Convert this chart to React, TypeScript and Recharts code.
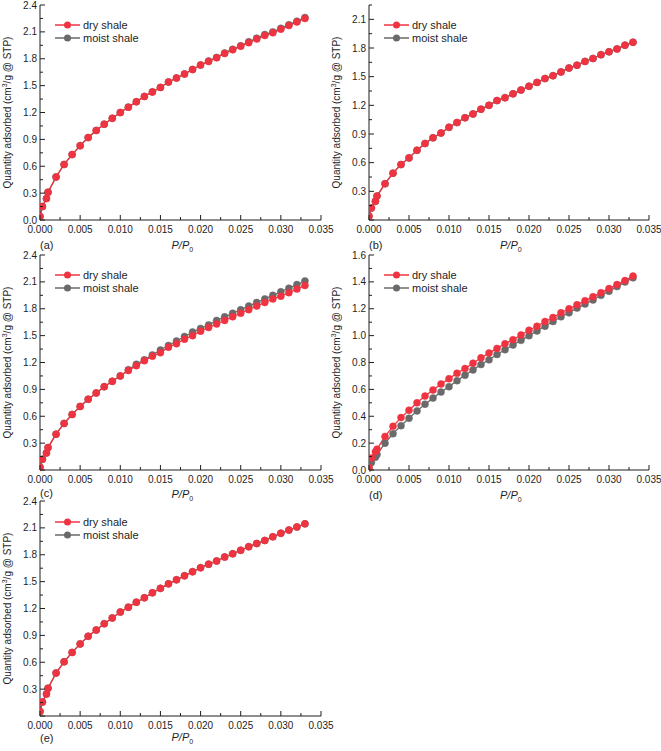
import React from 'react';
import { LineChart, Line, XAxis, YAxis } from 'recharts';

// Relative pressure P/P0 (shared by all panels)
const PRESSURE = [
  0, 0.0003, 0.0008, 0.001, 0.002, 0.003, 0.004, 0.005, 0.006, 0.007, 0.008, 0.009, 0.01,
  0.011, 0.012, 0.013, 0.014, 0.015, 0.016, 0.017, 0.018, 0.019, 0.02, 0.021, 0.022, 0.023,
  0.024, 0.025, 0.026, 0.027, 0.028, 0.029, 0.03, 0.031, 0.032, 0.033,
];

const X_TICKS = [
  0, 0.0025, 0.005, 0.0075, 0.01, 0.0125, 0.015, 0.0175, 0.02, 0.0225, 0.025, 0.0275, 0.03,
  0.0325, 0.035,
];
const X_LABELS = [0, 0.005, 0.01, 0.015, 0.02, 0.025, 0.03, 0.035];

// Panel (a)
const DRY_A = [
  0.04, 0.15, 0.24, 0.31, 0.48, 0.62, 0.73, 0.83, 0.92, 1.0, 1.07, 1.135, 1.2, 1.26, 1.32, 1.38,
  1.43, 1.48, 1.54, 1.585, 1.63, 1.68, 1.73, 1.77, 1.81, 1.86, 1.9, 1.94, 1.98, 2.02, 2.06, 2.09,
  2.13, 2.17, 2.21, 2.25,
];
const MOIST_A = [
  0.04, 0.15, 0.24, 0.31, 0.48, 0.62, 0.73, 0.83, 0.92, 1.0, 1.07, 1.135, 1.2, 1.26, 1.32, 1.38,
  1.43, 1.48, 1.54, 1.585, 1.63, 1.68, 1.73, 1.775, 1.815, 1.865, 1.905, 1.945, 1.99, 2.03, 2.07,
  2.1, 2.14, 2.18, 2.22, 2.26,
];
// Panel (b)
const DRY_B = [
  0.04, 0.125, 0.195, 0.25, 0.38, 0.49, 0.58, 0.65, 0.73, 0.8, 0.86, 0.91, 0.97, 1.02, 1.07, 1.11,
  1.16, 1.2, 1.25, 1.28, 1.32, 1.36, 1.4, 1.44, 1.48, 1.51, 1.55, 1.59, 1.62, 1.66, 1.69, 1.73,
  1.76, 1.79, 1.83, 1.86,
];
const MOIST_B = [
  0.04, 0.125, 0.195, 0.25, 0.38, 0.49, 0.58, 0.65, 0.73, 0.8, 0.86, 0.91, 0.97, 1.02, 1.07, 1.11,
  1.16, 1.2, 1.25, 1.28, 1.32, 1.36, 1.4, 1.44, 1.48, 1.51, 1.55, 1.59, 1.62, 1.66, 1.69, 1.73,
  1.76, 1.79, 1.83, 1.86,
];
// Panel (c)
const DRY_C = [
  0.03, 0.12, 0.19, 0.25, 0.4, 0.52, 0.62, 0.71, 0.79, 0.86, 0.93, 0.99, 1.05, 1.11, 1.165, 1.22,
  1.27, 1.31, 1.37, 1.41, 1.46, 1.5, 1.55, 1.59, 1.63, 1.67, 1.71, 1.75, 1.79, 1.83, 1.87, 1.91,
  1.94, 1.98, 2.02, 2.06,
];
const MOIST_C = [
  0.03, 0.12, 0.19, 0.25, 0.4, 0.52, 0.62, 0.71, 0.79, 0.86, 0.93, 0.99, 1.05, 1.12, 1.18, 1.23,
  1.285, 1.34, 1.39, 1.44, 1.49, 1.54, 1.58, 1.62, 1.67, 1.71, 1.75, 1.79, 1.83, 1.87, 1.91, 1.95,
  1.99, 2.03, 2.07, 2.11,
];
// Panel (d)
const DRY_D = [
  0.02, 0.09, 0.135, 0.155, 0.25, 0.325, 0.39, 0.445, 0.5, 0.55, 0.595, 0.64, 0.68, 0.72, 0.755,
  0.795, 0.835, 0.87, 0.905, 0.94, 0.97, 1.005, 1.04, 1.07, 1.105, 1.135, 1.17, 1.2, 1.23, 1.26,
  1.29, 1.32, 1.35, 1.38, 1.41, 1.443,
];
const MOIST_D = [
  0.015, 0.055, 0.095, 0.115, 0.2, 0.27, 0.33, 0.385, 0.44, 0.49, 0.535, 0.58, 0.62, 0.665, 0.705,
  0.745, 0.785, 0.82, 0.86, 0.895, 0.93, 0.965, 1.0, 1.035, 1.07, 1.105, 1.14, 1.17, 1.205, 1.235,
  1.265, 1.3, 1.33, 1.365, 1.4, 1.43,
];
// Panel (e)
const DRY_E = [
  0.05, 0.155, 0.245, 0.31, 0.48, 0.605, 0.71, 0.805, 0.89, 0.96, 1.03, 1.095, 1.16, 1.215, 1.27,
  1.32, 1.375, 1.425, 1.475, 1.52, 1.565, 1.61, 1.655, 1.695, 1.73, 1.775, 1.81, 1.85, 1.89, 1.925,
  1.96, 2.0, 2.04, 2.075, 2.11, 2.145,
];
const MOIST_E = [
  0.05, 0.155, 0.245, 0.31, 0.48, 0.605, 0.71, 0.805, 0.89, 0.96, 1.03, 1.095, 1.16, 1.215, 1.27,
  1.32, 1.375, 1.425, 1.475, 1.52, 1.565, 1.61, 1.655, 1.695, 1.73, 1.775, 1.81, 1.85, 1.89, 1.925,
  1.96, 2.0, 2.04, 2.075, 2.11, 2.145,
];

// Y ticks (all tick marks) and the ones that carry labels
const Y_TICKS_24 = [0, 0.15, 0.3, 0.45, 0.6, 0.75, 0.9, 1.05, 1.2, 1.35, 1.5, 1.65, 1.8, 1.95, 2.1, 2.25, 2.4];
const Y_MAJOR_24 = [0, 0.3, 0.6, 0.9, 1.2, 1.5, 1.8, 2.1, 2.4];
const Y_LABELS_24_FULL = [0, 0.3, 0.6, 0.9, 1.2, 1.5, 1.8, 2.1, 2.4];
const Y_LABELS_24 = [0.3, 0.6, 0.9, 1.2, 1.5, 1.8, 2.1, 2.4];
const Y_TICKS_225 = [0, 0.15, 0.3, 0.45, 0.6, 0.75, 0.9, 1.05, 1.2, 1.35, 1.5, 1.65, 1.8, 1.95, 2.1, 2.25];
const Y_LABELS_225 = [0.3, 0.6, 0.9, 1.2, 1.5, 1.8, 2.1];
const Y_TICKS_16 = [0, 0.1, 0.2, 0.3, 0.4, 0.5, 0.6, 0.7, 0.8, 0.9, 1.0, 1.1, 1.2, 1.3, 1.4, 1.5, 1.6];
const Y_MAJOR_16 = [0, 0.2, 0.4, 0.6, 0.8, 1.0, 1.2, 1.4, 1.6];
const Y_LABELS_16 = [0, 0.2, 0.4, 0.6, 0.8, 1.0, 1.2, 1.4, 1.6];

const SERIES_NAMES = ['dry shale', 'moist shale'];

const RED = '#EF3340';
const GRAY = '#6A6A6A';
const INK = '#1E1E1E';
const FONT = '"Liberation Sans", Arial, sans-serif';

const hasVal = (arr: number[], v: number) => arr.some((a) => Math.abs(a - v) < 1e-9);

const makeXTick = () => (props: any) => {
  const { x, y, payload } = props;
  const v = payload.value;
  const major = hasVal(X_LABELS, v);
  return (
    <g>
      <line x1={x} x2={x} y1={y} y2={y - (major ? 5 : 3)} stroke={INK} strokeWidth={1} />
      {major && (
        <text x={x} y={y + 13} textAnchor="middle" fontSize={10} fontFamily={FONT} fill={INK}>
          {v.toFixed(3)}
        </text>
      )}
    </g>
  );
};

const makeYTick = (majors: number[], labels: number[]) => (props: any) => {
  const { x, y, payload } = props;
  const v = payload.value;
  const isMajor = hasVal(majors, v);
  const isLabel = hasVal(labels, v);
  return (
    <g>
      <line x1={x} x2={x + (isMajor ? 5 : 3)} y1={y} y2={y} stroke={INK} strokeWidth={1} />
      {isLabel && (
        <text x={x - 3} y={y + 3.5} textAnchor="end" fontSize={10} fontFamily={FONT} fill={INK}>
          {v.toFixed(1)}
        </text>
      )}
    </g>
  );
};

type PanelCfg = {
  key: string;
  letter: string;
  left: number;
  top: number;
  rightMargin: number;
  dry: number[];
  moist: number[];
  yMax: number;
  yTicks: number[];
  yMajor: number[];
  yLabels: number[];
  legendTop: number;
  letterY: number;
  titleY: number;
};

const PANELS: PanelCfg[] = [
  { key: 'a', letter: '(a)', left: 0, top: 0, rightMargin: 24, dry: DRY_A, moist: MOIST_A, yMax: 2.4, yTicks: Y_TICKS_24, yMajor: Y_MAJOR_24, yLabels: Y_LABELS_24_FULL, legendTop: 20, letterY: 249, titleY: 249 },
  { key: 'b', letter: '(b)', left: 329, top: 0, rightMargin: 25, dry: DRY_B, moist: MOIST_B, yMax: 2.25, yTicks: Y_TICKS_225, yMajor: Y_MAJOR_24, yLabels: Y_LABELS_225, legendTop: 20, letterY: 249, titleY: 249 },
  { key: 'c', letter: '(c)', left: 0, top: 250, rightMargin: 24, dry: DRY_C, moist: MOIST_C, yMax: 2.4, yTicks: Y_TICKS_24, yMajor: Y_MAJOR_24, yLabels: Y_LABELS_24, legendTop: 20, letterY: 247, titleY: 248 },
  { key: 'd', letter: '(d)', left: 329, top: 250, rightMargin: 25, dry: DRY_D, moist: MOIST_D, yMax: 1.6, yTicks: Y_TICKS_16, yMajor: Y_MAJOR_16, yLabels: Y_LABELS_16, legendTop: 20, letterY: 249, titleY: 249 },
  { key: 'e', letter: '(e)', left: 0, top: 496, rightMargin: 24, dry: DRY_E, moist: MOIST_E, yMax: 2.4, yTicks: Y_TICKS_24, yMajor: Y_MAJOR_24, yLabels: Y_LABELS_24, legendTop: 21, letterY: 246, titleY: 245 },
];

const W = 345;
const H = 250;
const PLOT_LEFT = 40;
const PLOT_TOP = 5;
const X_AXIS_H = 30;

function Panel({ cfg }: { cfg: PanelCfg }) {
  const data = PRESSURE.map((p, i) => ({ p, dry: cfg.dry[i], moist: cfg.moist[i] }));
  const plotCenterY = PLOT_TOP + (H - X_AXIS_H - PLOT_TOP) / 2;
  const plotRight = W - cfg.rightMargin;
  const lx = PLOT_LEFT + 15;
  return (
    <div style={{ position: 'absolute', left: cfg.left, top: cfg.top, width: W, height: H }}>
      <LineChart width={W} height={H} data={data} margin={{ top: PLOT_TOP, right: cfg.rightMargin, left: 0, bottom: 0 }}>
        <XAxis
          xAxisId="b"
          type="number"
          dataKey="p"
          domain={[0, 0.035]}
          ticks={X_TICKS}
          interval={0}
          height={X_AXIS_H}
          tickSize={0}
          tickMargin={0}
          tickLine={false}
          axisLine={{ stroke: INK, strokeWidth: 1 }}
          tick={makeXTick()}
          allowDataOverflow
        />
        <XAxis xAxisId="t" orientation="top" type="number" dataKey="p" domain={[0, 0.035]} height={0} tick={false} tickLine={false} axisLine={{ stroke: INK, strokeWidth: 1 }} />
        <YAxis
          yAxisId="l"
          type="number"
          domain={[0, cfg.yMax]}
          ticks={cfg.yTicks}
          interval={0}
          width={PLOT_LEFT}
          tickSize={0}
          tickMargin={0}
          tickLine={false}
          axisLine={{ stroke: INK, strokeWidth: 1 }}
          tick={makeYTick(cfg.yMajor, cfg.yLabels)}
        />
        <YAxis yAxisId="r" orientation="right" type="number" domain={[0, cfg.yMax]} width={0} tick={false} tickLine={false} axisLine={{ stroke: INK, strokeWidth: 1 }} />
        <Line
          xAxisId="b"
          yAxisId="l"
          type="linear"
          dataKey="moist"
          name={SERIES_NAMES[1]}
          stroke={GRAY}
          strokeWidth={1.3}
          dot={{ r: 3.5, fill: GRAY, stroke: GRAY, strokeWidth: 0.5 }}
          isAnimationActive={false}
        />
        <Line
          xAxisId="b"
          yAxisId="l"
          type="linear"
          dataKey="dry"
          name={SERIES_NAMES[0]}
          stroke={RED}
          strokeWidth={1.3}
          dot={{ r: 3.5, fill: RED, stroke: RED, strokeWidth: 0.5 }}
          isAnimationActive={false}
        />
      </LineChart>
      <svg width={W} height={H + 10} style={{ position: 'absolute', left: 0, top: 0, pointerEvents: 'none', overflow: 'visible' }}>
        {[RED, GRAY].map((c, i) => (
          <g key={i}>
            <line x1={lx} x2={lx + 25} y1={cfg.legendTop + 5 + i * 13} y2={cfg.legendTop + 5 + i * 13} stroke={c} strokeWidth={1.5} />
            <circle cx={lx + 12.5} cy={cfg.legendTop + 5 + i * 13} r={3.5} fill={c} />
            <text x={lx + 28} y={cfg.legendTop + 9 + i * 13} fontSize={11} fontFamily={FONT} fill={INK}>
              {SERIES_NAMES[i]}
            </text>
          </g>
        ))}
        <text
          transform={`translate(${PLOT_LEFT - 29}, ${plotCenterY}) rotate(-90)`}
          textAnchor="middle"
          fontSize={10}
          fontFamily={FONT}
          fill={INK}
        >
          Quantity adsorbed (cm<tspan dy={-4} fontSize={7}>3</tspan>
          <tspan dy={4}>/g @ STP)</tspan>
        </text>
        <text x={PLOT_LEFT} y={cfg.letterY} fontSize={11} fontFamily={FONT} fill={INK}>
          {cfg.letter}
        </text>
        <text x={(PLOT_LEFT + plotRight) / 2 - 9} y={cfg.titleY} fontSize={11} fontFamily={FONT} fill={INK}>
          <tspan fontStyle="italic">P</tspan>
          <tspan fontStyle="italic">/</tspan>
          <tspan fontStyle="italic">P</tspan>
          <tspan dy={3} fontSize={7}>0</tspan>
        </text>
      </svg>
    </div>
  );
}

export default function App() {
  return (
    <div style={{ position: 'absolute', left: 0, top: 0, width: 661, height: 751, background: '#fff', overflow: 'hidden' }}>
      {PANELS.map((p) => (
        <Panel key={p.key} cfg={p} />
      ))}
    </div>
  );
}
